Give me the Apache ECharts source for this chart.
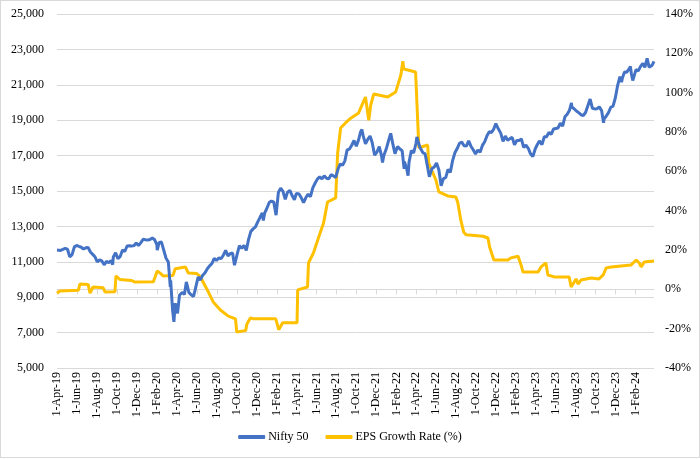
<!DOCTYPE html>
<html><head><meta charset="utf-8">
<script src="https://cdn.jsdelivr.net/npm/echarts@6/dist/echarts.min.js"></script>
<style>
html,body{margin:0;padding:0;background:#fff}
#c{width:700px;height:459px;position:absolute;left:0;top:0}
#b{position:absolute;left:0;top:0;width:700px;height:458px;box-sizing:border-box;border:1px solid #d9d9d9;pointer-events:none}
</style>
</head><body><div id="c"></div><div id="b"></div><script>
const seriesNames = ["Nifty 50", "EPS Growth Rate (%)"];
const leftTicks = [5000, 7000, 9000, 11000, 13000, 15000, 17000, 19000, 21000, 23000, 25000];
const rightTicks = [-40, -20, 0, 20, 40, 60, 80, 100, 120, 140];
const xTickDates = ["2019-04-01","2019-06-01","2019-08-01","2019-10-01","2019-12-01",
  "2020-02-01","2020-04-01","2020-06-01","2020-08-01","2020-10-01","2020-12-01",
  "2021-02-01","2021-04-01","2021-06-01","2021-08-01","2021-10-01","2021-12-01",
  "2022-02-01","2022-04-01","2022-06-01","2022-08-01","2022-10-01","2022-12-01",
  "2023-02-01","2023-04-01","2023-06-01","2023-08-01","2023-10-01","2023-12-01",
  "2024-02-01"];
const xStart = "2019-04-01";
const xEnd = "2024-03-28";

const nifty = [
["2019-04-01",11669],["2019-04-05",11665],["2019-04-12",11643],["2019-04-18",11752],["2019-04-26",11755],
["2019-05-03",11712],["2019-05-10",11279],["2019-05-17",11407],["2019-05-24",11844],["2019-05-31",11923],
["2019-06-07",11871],["2019-06-14",11823],["2019-06-21",11724],["2019-06-28",11789],["2019-07-05",11811],
["2019-07-12",11552],["2019-07-19",11419],["2019-07-26",11284],["2019-08-02",10997],["2019-08-09",11109],
["2019-08-16",11048],["2019-08-23",10829],["2019-08-30",11023],["2019-09-06",10946],["2019-09-13",11076],
["2019-09-18",10840],["2019-09-20",11274],["2019-09-27",11512],["2019-10-04",11175],["2019-10-11",11305],
["2019-10-18",11662],["2019-10-25",11584],["2019-11-01",11891],["2019-11-08",11908],["2019-11-15",11895],
["2019-11-22",11914],["2019-11-29",12056],["2019-12-06",11922],["2019-12-13",12087],["2019-12-20",12272],
["2019-12-27",12246],["2020-01-03",12227],["2020-01-10",12257],["2020-01-17",12352],["2020-01-24",12248],
["2020-01-31",11962],["2020-02-01",11662],["2020-02-07",12098],["2020-02-14",12113],["2020-02-20",12080],
["2020-02-28",11202],["2020-03-06",10989],["2020-03-12",9590],["2020-03-13",9955],["2020-03-19",8263],
["2020-03-23",7610],["2020-03-27",8660],["2020-04-03",8084],["2020-04-09",9112],["2020-04-17",9267],
["2020-04-24",9154],["2020-04-30",9860],["2020-05-08",9252],["2020-05-15",9137],["2020-05-22",9040],
["2020-05-29",9580],["2020-06-05",10142],["2020-06-12",9973],["2020-06-19",10244],["2020-06-26",10383],
["2020-07-03",10608],["2020-07-10",10768],["2020-07-17",10902],["2020-07-24",11194],["2020-07-31",11073],
["2020-08-07",11214],["2020-08-14",11178],["2020-08-21",11372],["2020-08-28",11647],["2020-09-04",11333],
["2020-09-11",11464],["2020-09-18",11505],["2020-09-24",10806],["2020-10-02",11417],["2020-10-09",11914],
["2020-10-16",11762],["2020-10-23",11930],["2020-10-30",11642],["2020-11-06",12264],["2020-11-13",12720],
["2020-11-20",12859],["2020-11-27",12969],["2020-12-04",13258],["2020-12-11",13514],["2020-12-18",13761],
["2020-12-21",13328],["2020-12-25",13749],["2020-12-31",13982],["2021-01-08",14347],["2021-01-15",14433],
["2021-01-22",14372],["2021-01-29",13635],["2021-02-05",14924],["2021-02-12",15163],["2021-02-19",14982],
["2021-02-26",14529],["2021-03-05",14938],["2021-03-12",15031],["2021-03-19",14744],["2021-03-26",14507],
["2021-04-01",14867],["2021-04-09",14834],["2021-04-16",14617],["2021-04-23",14341],["2021-04-30",14631],
["2021-05-07",14823],["2021-05-14",14677],["2021-05-21",15175],["2021-05-28",15436],["2021-06-04",15670],
["2021-06-11",15799],["2021-06-18",15683],["2021-06-25",15860],["2021-07-02",15722],["2021-07-09",15690],
["2021-07-16",15923],["2021-07-23",15856],["2021-07-30",15763],["2021-08-06",16238],["2021-08-13",16529],
["2021-08-20",16450],["2021-08-27",16705],["2021-09-03",17324],["2021-09-10",17369],["2021-09-17",17585],
["2021-09-24",17853],["2021-10-01",17532],["2021-10-08",17895],["2021-10-14",18339],["2021-10-18",18477],
["2021-10-22",18114],["2021-10-29",17672],["2021-11-05",17917],["2021-11-12",18103],["2021-11-18",17765],
["2021-11-26",17026],["2021-12-03",17197],["2021-12-10",17512],["2021-12-17",16985],["2021-12-20",16614],
["2021-12-24",17004],["2021-12-31",17354],["2022-01-07",17812],["2022-01-14",18256],["2022-01-18",18309],
["2022-01-21",17617],["2022-01-27",17110],["2022-02-04",17516],["2022-02-11",17375],["2022-02-18",17276],
["2022-02-24",16248],["2022-02-25",16658],["2022-03-04",16245],["2022-03-08",15863],["2022-03-11",16630],
["2022-03-18",17287],["2022-03-25",17153],["2022-04-01",17670],["2022-04-04",18053],["2022-04-08",17784],
["2022-04-13",17476],["2022-04-22",17172],["2022-04-29",17103],["2022-05-06",16411],["2022-05-12",15808],
["2022-05-20",16266],["2022-05-27",16352],["2022-06-03",16584],["2022-06-10",16202],["2022-06-17",15293],
["2022-06-24",15699],["2022-07-01",15752],["2022-07-08",16220],["2022-07-15",16049],["2022-07-22",16719],
["2022-07-29",17158],["2022-08-05",17398],["2022-08-12",17698],["2022-08-19",17758],["2022-08-26",17559],
["2022-09-02",17539],["2022-09-09",17833],["2022-09-16",17531],["2022-09-23",17327],["2022-09-30",17094],
["2022-10-07",17315],["2022-10-14",17186],["2022-10-21",17576],["2022-10-28",17786],["2022-11-04",18117],
["2022-11-11",18350],["2022-11-18",18308],["2022-11-25",18512],["2022-12-01",18812],["2022-12-09",18497],
["2022-12-16",18270],["2022-12-23",17806],["2022-12-30",18105],["2023-01-06",17859],["2023-01-13",17957],
["2023-01-20",18028],["2023-01-27",17604],["2023-02-03",17854],["2023-02-10",17856],["2023-02-17",17944],
["2023-02-24",17466],["2023-03-03",17594],["2023-03-10",17413],["2023-03-17",17100],["2023-03-24",16945],
["2023-03-31",17360],["2023-04-06",17599],["2023-04-13",17828],["2023-04-21",17624],["2023-04-28",18065],
["2023-05-05",18069],["2023-05-12",18315],["2023-05-19",18203],["2023-05-26",18499],["2023-06-02",18534],
["2023-06-09",18563],["2023-06-16",18826],["2023-06-23",18665],["2023-06-30",19189],["2023-07-07",19332],
["2023-07-14",19565],["2023-07-20",19979],["2023-07-21",19745],["2023-07-28",19646],["2023-08-04",19517],
["2023-08-11",19428],["2023-08-18",19310],["2023-08-25",19266],["2023-09-01",19435],["2023-09-08",19820],
["2023-09-15",20192],["2023-09-22",19674],["2023-09-29",19638],["2023-10-06",19653],["2023-10-13",19751],
["2023-10-20",19543],["2023-10-26",18857],["2023-10-27",19047],["2023-11-03",19231],["2023-11-10",19425],
["2023-11-17",19732],["2023-11-24",19795],["2023-12-01",20268],["2023-12-08",20970],["2023-12-15",21457],
["2023-12-20",21150],["2023-12-22",21349],["2023-12-29",21731],["2024-01-05",21711],["2024-01-12",21895],
["2024-01-16",22032],["2024-01-19",21622],["2024-01-23",21239],["2024-01-25",21353],["2024-02-02",21854],
["2024-02-09",21783],["2024-02-16",22041],["2024-02-23",22213],["2024-02-29",21983],["2024-03-07",22494],
["2024-03-13",21998],["2024-03-15",22023],["2024-03-22",22097],["2024-03-28",22327]
];

const eps = [
["2019-04-01",-2.0],["2019-04-10",-0.8],["2019-06-05",-0.5],["2019-06-10",2.7],["2019-07-05",2.5],
["2019-07-11",-1.9],["2019-07-20",1.2],["2019-08-20",0.8],["2019-08-26",-1.4],["2019-09-25",-1.2],
["2019-09-28",6.8],["2019-10-10",5.0],["2019-11-15",4.5],["2019-11-25",3.7],["2020-01-20",3.8],
["2020-01-25",6.0],["2020-02-01",9.3],["2020-02-12",8.0],["2020-02-19",6.8],["2020-03-20",7.0],
["2020-03-27",10.5],["2020-04-27",11.4],["2020-05-06",8.3],["2020-06-01",8.0],["2020-06-12",6.3],
["2020-07-03",-0.3],["2020-07-21",-6.4],["2020-08-12",-10.5],["2020-09-05",-13.6],["2020-09-27",-15.0],
["2020-10-01",-21.7],["2020-10-28",-21.0],["2020-11-01",-17.6],["2020-11-12",-14.5],["2020-11-20",-15.0],
["2021-01-28",-15.0],["2021-02-06",-20.5],["2021-02-18",-17.0],["2021-04-03",-17.0],["2021-04-05",-0.3],
["2021-05-05",1.2],["2021-05-08",13.4],["2021-05-23",18.5],["2021-06-07",26.0],["2021-06-23",33.7],
["2021-07-05",44.4],["2021-07-30",46.5],["2021-08-05",69.3],["2021-08-14",82.0],["2021-08-29",84.6],
["2021-09-14",87.0],["2021-10-08",89.7],["2021-10-29",97.8],["2021-11-08",86.0],["2021-11-14",93.7],
["2021-11-23",99.3],["2022-01-05",97.8],["2022-01-29",100.3],["2022-02-14",109.0],["2022-02-20",116.0],
["2022-02-23",112.0],["2022-03-31",110.5],["2022-04-10",72.0],["2022-05-07",73.4],["2022-05-10",64.2],
["2022-06-01",55.6],["2022-06-10",49.5],["2022-07-07",47.5],["2022-08-01",47.0],["2022-08-07",44.0],
["2022-08-16",35.3],["2022-08-25",29.0],["2022-09-01",27.8],["2022-10-23",27.0],["2022-11-07",26.1],
["2022-11-12",21.5],["2022-11-25",14.9],["2023-01-07",14.9],["2023-01-16",16.0],["2023-02-07",16.8],
["2023-02-16",12.4],["2023-02-22",8.8],["2023-04-09",8.8],["2023-04-18",11.4],["2023-05-03",13.4],
["2023-05-09",7.3],["2023-05-28",6.3],["2023-07-13",6.3],["2023-07-19",1.2],["2023-07-25",0.7],
["2023-08-03",5.3],["2023-08-09",2.7],["2023-08-18",4.7],["2023-09-18",5.8],["2023-10-12",5.3],
["2023-10-25",7.3],["2023-11-03",10.9],["2023-11-18",11.4],["2024-01-18",12.4],["2024-02-03",14.9],
["2024-02-12",13.4],["2024-02-18",11.4],["2024-02-27",13.9],["2024-03-28",14.4]
];

const MONTHS = ["Jan","Feb","Mar","Apr","May","Jun","Jul","Aug","Sep","Oct","Nov","Dec"];
const ts = s => Date.parse(s);
const fmtDate = v => { const d = new Date(v); return d.getUTCDate() + "-" + MONTHS[d.getUTCMonth()] + "-" + String(d.getUTCFullYear()).slice(2); };
const FONT = "Liberation Serif";
const xTicks = xTickDates.map(ts);

const chart = echarts.init(document.getElementById('c'), null, {renderer: 'canvas'});
chart.setOption({
  animation: false,
  backgroundColor: '#fff',
  textStyle: {fontFamily: FONT},
  grid: {left: 57, right: 46, top: 14, bottom: 91, containLabel: false},
  legend: {
    bottom: 11, left: 'center', itemGap: 17, itemWidth: 27, itemHeight: 4, icon: 'roundRect',
    textStyle: {fontFamily: FONT, fontSize: 12, color: '#000', padding: [0, 0, 0, -2]},
    data: seriesNames
  },
  xAxis: {
    type: 'value', min: ts(xStart), max: ts(xEnd),
    axisLine: {show: true, lineStyle: {color: '#d9d9d9', width: 1}},
    axisTick: {show: true, length: 5, lineStyle: {color: '#d9d9d9'}, customValues: xTicks},
    axisLabel: {customValues: xTicks, rotate: 90, margin: 4, fontFamily: FONT, fontSize: 12, color: '#000',
      formatter: v => fmtDate(v), hideOverlap: false},
    splitLine: {show: false}
  },
  yAxis: [{
    type: 'value', min: 5000, max: 25000,
    axisLine: {show: false}, axisTick: {show: false, customValues: leftTicks},
    axisLabel: {customValues: leftTicks, margin: 13, fontFamily: FONT, fontSize: 12, color: '#000',
      formatter: v => v.toLocaleString('en-US')},
    splitLine: {show: true, lineStyle: {color: '#d9d9d9', width: 1}}
  }, {
    type: 'value', min: -40, max: 140, interval: 20, position: 'right',
    axisLine: {show: false}, axisTick: {show: false},
    axisLabel: {margin: 11, fontFamily: FONT, fontSize: 12, color: '#000', formatter: v => v + '%'},
    splitLine: {show: false}
  }],
  series: [{
    name: seriesNames[0], type: 'line', yAxisIndex: 0, symbol: 'none', smooth: false,
    lineStyle: {color: '#4472C4', width: 3}, itemStyle: {color: '#4472C4'},
    data: nifty.map(p => [ts(p[0]), p[1]]), z: 3
  }, {
    name: seriesNames[1], type: 'line', yAxisIndex: 1, symbol: 'none', smooth: false,
    lineStyle: {color: '#FFC000', width: 3}, itemStyle: {color: '#FFC000'},
    data: eps.map(p => [ts(p[0]), p[1]]), z: 2
  }]
});
</script></body></html>
